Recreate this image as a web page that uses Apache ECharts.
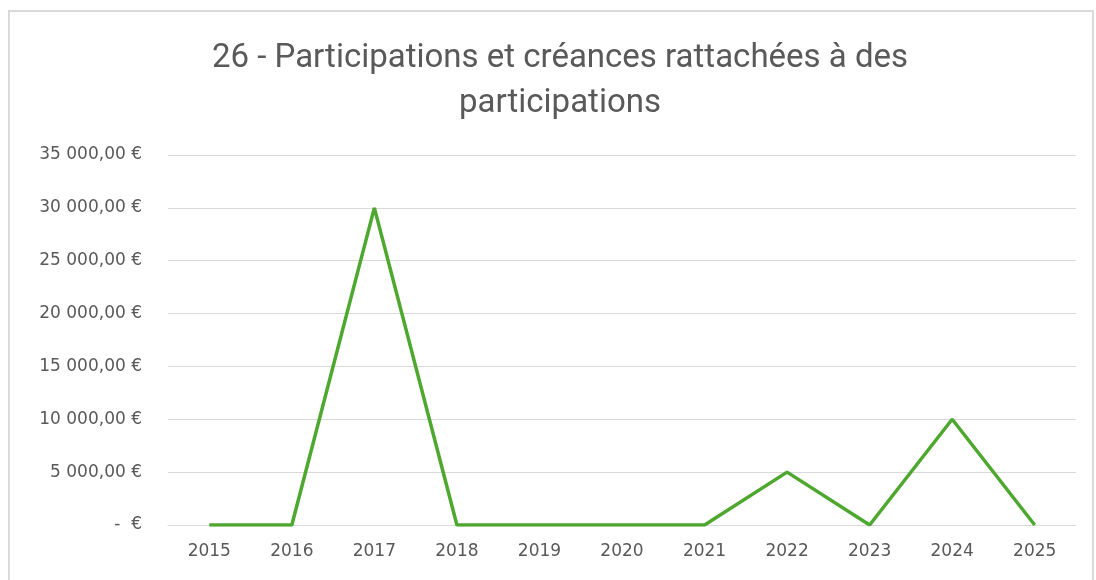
<!DOCTYPE html>
<html>
<head>
<meta charset="utf-8">
<script src="https://cdn.jsdelivr.net/npm/echarts@6/dist/echarts.min.js"></script>
<style>
html, body { margin: 0; padding: 0; background: #fff; }
#frame { position: absolute; left: 8px; top: 10px; width: 1086px; height: 580px; border: 2px solid #d9d9d9; box-sizing: border-box; }
#chart { width: 1096px; height: 580px; }
</style>
</head>
<body>
<div id="frame"></div>
<div id="chart"></div>
<script>
var years = ['2015', '2016', '2017', '2018', '2019', '2020', '2021', '2022', '2023', '2024', '2025'];
var amounts = [0, 0, 30000, 0, 0, 0, 0, 5000, 0, 10000, 0];

function euro(v) {
	if (v === 0) return '-  €';
	var s = String(v).replace(/\B(?=(\d{3})+(?!\d))/g, ' ');
	return s + ',00 €';
}

var chart = echarts.init(document.getElementById('chart'));

chart.setOption({
	animation: false,
	title: {
		text: '26 - Participations et créances rattachées à des\nparticipations',
		left: 555,
		textAlign: 'center',
		top: 31,
		textStyle: {
			fontFamily: 'Roboto',
			fontSize: 33,
			fontWeight: 'normal',
			color: '#595959',
			lineHeight: 45
		}
	},
	grid: {
		left: 168,
		right: 20,
		top: 155,
		bottom: 55
	},
	xAxis: {
		type: 'category',
		data: years,
		boundaryGap: true,
		axisLine: { lineStyle: { color: '#d9d9d9' } },
		axisTick: { show: false },
		axisLabel: {
			color: '#595959',
			fontFamily: 'DejaVu Sans',
			fontSize: 17,
			margin: 18
		}
	},
	yAxis: {
		type: 'value',
		min: 0,
		max: 35000,
		interval: 5000,
		axisLine: { show: false },
		axisTick: { show: false },
		splitLine: { lineStyle: { color: '#d9d9d9', width: 1 } },
		axisLabel: {
			color: '#595959',
			fontFamily: 'DejaVu Sans',
			fontSize: 17,
			margin: 26,
			formatter: euro
		}
	},
	series: [{
		type: 'line',
		data: amounts,
		symbol: 'none',
		lineStyle: { color: '#4ea72e', width: 3.5 }
	}]
});
</script>
</body>
</html>
